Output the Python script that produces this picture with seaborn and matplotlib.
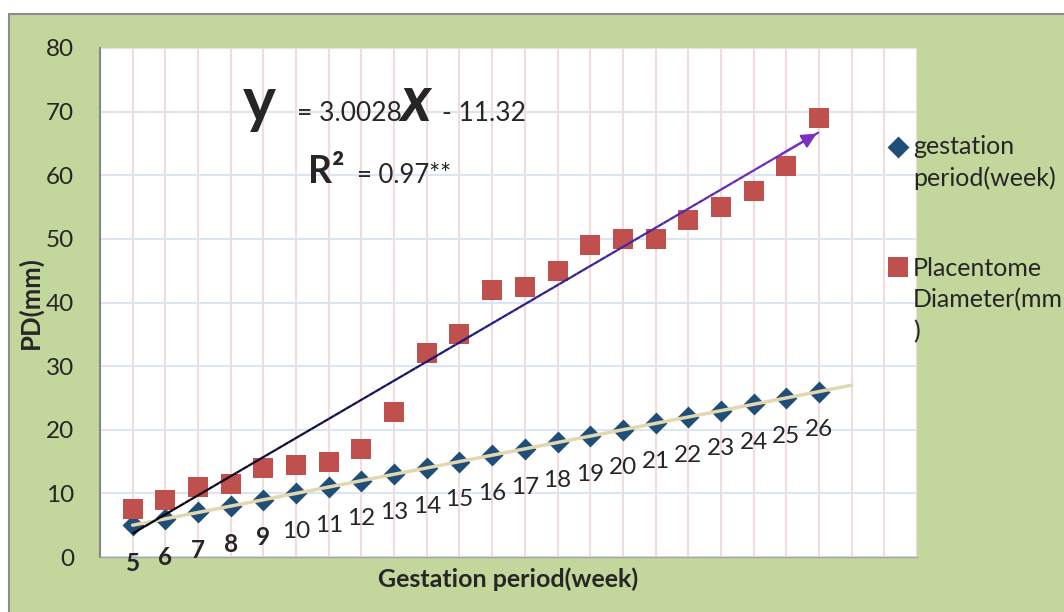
import numpy as np
import matplotlib.pyplot as plt
import seaborn as sns
from matplotlib.collections import LineCollection
from matplotlib.colors import LinearSegmentedColormap
from matplotlib.patches import Rectangle
from matplotlib.legend_handler import HandlerPathCollection

# data
weeks = list(range(5, 27))
gestation = list(range(5, 27))
placentome = [7.5, 9, 11, 11.5, 14, 14.5, 15, 17, 22.8, 32, 35, 42, 42.5,
              45, 49, 50, 50, 53, 55, 57.5, 61.5, 69]
week_labels = [str(w) for w in weeks]
slope, intercept = 3.0028, -11.32
y_ticks = list(range(0, 81, 10))

blue = '#1F4E79'
red = '#C0504D'
green_bg = '#C3D69B'

sns.set_style("white")
plt.rcParams['font.family'] = ['Lato', 'DejaVu Sans']

W, H = 1064, 612
fig = plt.figure(figsize=(W / 100, H / 100), dpi=100)
fig.add_artist(Rectangle((9 / W, -0.01), 1.0, 1 - 14 / H + 0.01, transform=fig.transFigure,
                         facecolor=green_bg, edgecolor='#8C8C8C', lw=1.5, zorder=-1))
ax = fig.add_axes([100 / W, 55 / H, 817 / W, 509 / H])
ax.set_facecolor('white')

# scatter points
sns.scatterplot(x=weeks, y=gestation, marker='D', s=125, color=blue, linewidth=0, ax=ax, zorder=3)
sns.scatterplot(x=weeks, y=placentome, marker='s', s=200, color=red, linewidth=0, ax=ax, zorder=3)
pc_blue, pc_red = ax.collections[0], ax.collections[1]

# trend line of the gestation series
fit = np.polyfit(weeks, gestation, 1)
tx = np.array([weeks[0], weeks[-1] + 1])
ax.plot(tx, np.polyval(fit, tx), color='#E3D7B0', lw=2.5, zorder=4)

# trend line of placentome diameter (gradient + arrow)
gx = np.linspace(weeks[0], weeks[-1], 120)
gy = slope * gx + intercept
pts = np.array([gx, gy]).T.reshape(-1, 1, 2)
segs = np.concatenate([pts[:-1], pts[1:]], axis=1)
cmap = LinearSegmentedColormap.from_list('tl', ['#000000', '#1B1B80', '#7B2FC4'])
lc = LineCollection(segs, colors=cmap(np.linspace(0, 1, len(segs))), lw=1.6, zorder=4)
ax.add_collection(lc)
ax.annotate('', xy=(gx[-1], gy[-1]), xytext=(gx[-8], gy[-8]),
            arrowprops=dict(arrowstyle='-|>', color='#7B2FC4', lw=1.6, mutation_scale=22),
            zorder=5)

# data labels under the diamonds
for w, g, lab in zip(weeks, gestation, week_labels):
    ax.annotate(lab, (w, g), xytext=(0, -27.5), textcoords='offset points',
                ha='center', va='center', fontsize=17.5,
                fontweight='bold' if w <= 9 else 'normal', annotation_clip=False)

ax.set_xlim(4, 29)
ax.set_ylim(0, 80)
ax.set_xticks(range(4, 30))
ax.set_yticks(y_ticks)
ax.tick_params(axis='x', length=0, labelbottom=False)
ax.tick_params(axis='y', length=6.5, width=1.5, color='#868686', pad=12, labelsize=17.5)
ax.grid(axis='x', color='#F2DCDB', lw=1.5)
ax.grid(axis='y', color='#DCE6F2', lw=1.5)
ax.set_axisbelow(True)
for s in ['top', 'right']:
    ax.spines[s].set_visible(False)
ax.spines['left'].set_color('#868686')
ax.spines['left'].set_linewidth(1.5)
ax.spines['bottom'].set_color('#A6A6A6')
ax.spines['bottom'].set_linewidth(1)

ax.set_xlabel('Gestation period(week)', fontsize=18, fontweight='bold')
ax.set_ylabel('PD(mm)', fontsize=18.5, fontweight='bold')
ax.xaxis.set_label_coords(0.4994, -0.020)
ax.yaxis.set_label_coords(-0.070, 0.5)

# regression equation
def px(x, y):
    return x / W, 1 - y / H

fig.text(*px(243, 121), 'y', fontsize=45, fontweight='bold', va='baseline')
fig.text(*px(297, 121), '= 3.0028', fontsize=19, va='baseline')
fig.text(*px(401, 121), 'x', fontsize=45, fontweight='bold', fontstyle='italic', va='baseline')
fig.text(*px(442, 121), '- 11.32', fontsize=19, va='baseline')
fig.text(*px(308, 183), 'R²', fontsize=27, fontweight='bold', va='baseline')
fig.text(*px(357, 183), '= 0.97**', fontsize=18.5, va='baseline')

# legend
leg = fig.legend([pc_blue, pc_red],
                 ['gestation\nperiod(week)', 'Placentome\nDiameter(mm\n)'],
                 loc='upper left', bbox_to_anchor=(887 / W, 1 - 135 / H),
                 frameon=False, fontsize=18, borderpad=0, borderaxespad=0,
                 handlelength=0.86, handletextpad=0.18, labelspacing=2.65,
                 handler_map={pc_blue: HandlerPathCollection(yoffsets=[1.46]),
                              pc_red: HandlerPathCollection(yoffsets=[2.43])})
for t in leg.get_texts():
    t.set_linespacing(1.45)

fig.savefig('out.png', dpi=100)
